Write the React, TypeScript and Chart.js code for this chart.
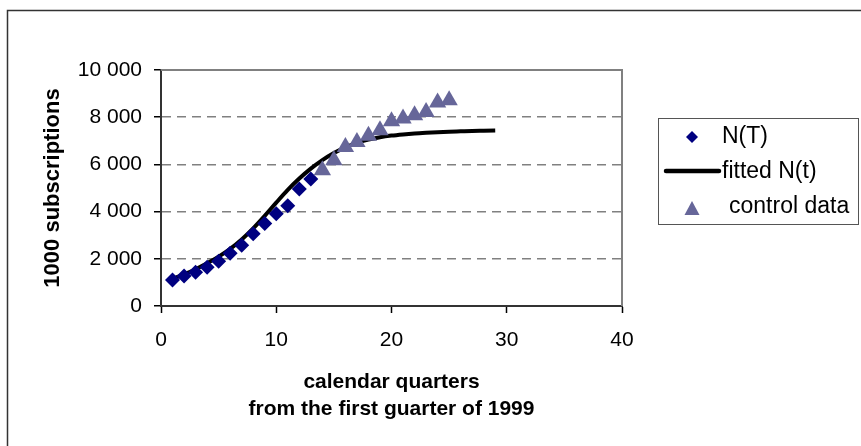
import React, { useEffect, useRef } from 'react';
import { Chart, registerables } from 'chart.js';

Chart.register(...registerables);

// ---- data ----
const QUARTERS_OBSERVED = [1, 2, 3, 4, 5, 6, 7, 8, 9, 10, 11, 12, 13];
const N_OBSERVED = [1100, 1270, 1430, 1640, 1900, 2230, 2570, 3060, 3500, 3910, 4250, 4960, 5380];

const QUARTERS_CONTROL = [14, 15, 16, 17, 18, 19, 20, 21, 22, 23, 24, 25];
const N_CONTROL = [5750, 6180, 6740, 6950, 7210, 7450, 7830, 7940, 8080, 8220, 8620, 8720];

const QUARTERS_FIT = [1, 2, 3, 4, 5, 6, 7, 8, 9, 10, 11, 12, 13, 14, 15, 16, 17, 18, 19, 20, 21, 22, 23, 24, 25, 26, 27, 28, 29];
const N_FIT = [1150, 1340, 1560, 1810, 2090, 2420, 2820, 3290, 3820, 4380, 4920, 5400, 5820, 6180, 6480, 6720, 6910, 7050, 7150, 7220, 7270, 7310, 7340, 7365, 7385, 7400, 7415, 7425, 7435];

const X_TICKS = [0, 10, 20, 30, 40];
const Y_TICKS = [0, 2000, 4000, 6000, 8000, 10000];
const SERIES_NAMES = ['N(T)', 'fitted N(t)', 'control data'];
const X_TITLE = ['calendar quarters', 'from the first guarter of 1999'];
const Y_TITLE = '1000 subscriptions';

const FONT = "'Liberation Sans', Arial, sans-serif";
const NAVY = '#000080';
const TRIANGLE = '#666699';

const fmt = (v: number) => String(v).replace(/\B(?=(\d{3})+(?!\d))/g, ' ');

const framePlugin = {
  id: 'frame',
  beforeDatasetsDraw(chart: any) {
    const { ctx, chartArea } = chart;
    ctx.save();
    ctx.strokeStyle = '#808080';
    ctx.lineWidth = 2;
    ctx.beginPath();
    ctx.moveTo(chartArea.left, chartArea.top);
    ctx.lineTo(chartArea.right, chartArea.top);
    ctx.lineTo(chartArea.right, chartArea.bottom);
    ctx.stroke();
    ctx.restore();
  },
  afterDraw(chart: any) {
    const { ctx } = chart;
    ctx.save();
    // outer chart border
    ctx.strokeStyle = '#333';
    ctx.lineWidth = 1.5;
    ctx.strokeRect(7.5, 10.5, 1000, 1000);
    // legend box
    ctx.strokeStyle = '#555';
    ctx.lineWidth = 1;
    ctx.strokeRect(658.5, 118.5, 200, 106);
    // markers
    ctx.fillStyle = NAVY;
    ctx.beginPath();
    ctx.moveTo(692 - 6, 137);
    ctx.lineTo(692, 137 - 6);
    ctx.lineTo(692 + 6, 137);
    ctx.lineTo(692, 137 + 6);
    ctx.closePath();
    ctx.fill();
    ctx.strokeStyle = '#000';
    ctx.lineWidth = 4.5;
    ctx.lineCap = 'round';
    ctx.beginPath();
    ctx.moveTo(666, 171);
    ctx.lineTo(719, 171);
    ctx.stroke();
    ctx.fillStyle = TRIANGLE;
    ctx.beginPath();
    ctx.moveTo(692, 201);
    ctx.lineTo(699.5, 215);
    ctx.lineTo(684.5, 215);
    ctx.closePath();
    ctx.fill();
    // texts
    ctx.fillStyle = '#000';
    ctx.font = `23px ${FONT}`;
    ctx.textBaseline = 'middle';
    ctx.textAlign = 'left';
    ctx.fillText(SERIES_NAMES[0], 722, 137);
    ctx.fillText(SERIES_NAMES[1], 722, 172);
    ctx.fillText(SERIES_NAMES[2], 729, 207);
    ctx.restore();
  },
};

export default function App() {
  const ref = useRef<HTMLCanvasElement | null>(null);

  useEffect(() => {
    if (!ref.current) return;
    const chart = new Chart(ref.current, {
      type: 'scatter',
      data: {
        datasets: [
          {
            label: SERIES_NAMES[0],
            data: QUARTERS_OBSERVED.map((x, i) => ({ x, y: N_OBSERVED[i] })),
            pointStyle: 'rectRot',
            pointRadius: 7.5,
            pointBorderWidth: 0,
            backgroundColor: NAVY,
            borderColor: NAVY,
            order: 1,
          },
          {
            label: SERIES_NAMES[1],
            data: QUARTERS_FIT.map((x, i) => ({ x, y: N_FIT[i] })),
            showLine: true,
            pointRadius: 0,
            borderWidth: 4,
            borderColor: '#000',
            backgroundColor: '#000',
            cubicInterpolationMode: 'monotone',
            order: 3,
          },
          {
            label: SERIES_NAMES[2],
            data: QUARTERS_CONTROL.map((x, i) => ({ x, y: N_CONTROL[i] })),
            pointStyle: 'triangle',
            pointRadius: 10,
            pointBorderWidth: 0,
            backgroundColor: TRIANGLE,
            borderColor: TRIANGLE,
            order: 0,
          },
        ],
      },
      options: {
        animation: false,
        responsive: false,
        events: [],
        layout: { padding: { left: 40, top: 70, right: 239, bottom: 0 } },
        plugins: { legend: { display: false }, tooltip: { enabled: false } },
        scales: {
          x: {
            type: 'linear',
            min: 0,
            max: 40,
            afterBuildTicks: (s: any) => { s.ticks = X_TICKS.map((v) => ({ value: v })); },
            afterFit: (s: any) => { s.height = 140; },
            ticks: { color: '#000', font: { family: FONT, size: 21 }, padding: 15, maxRotation: 0 },
            grid: { drawOnChartArea: false, tickLength: 7, tickColor: '#000', tickWidth: 1.5 },
            border: { color: '#333', width: 2 },
            title: {
              display: true,
              text: X_TITLE,
              color: '#000',
              font: { family: FONT, size: 21, weight: 'bold', lineHeight: 1.26 },
              padding: { top: 0, bottom: 24 },
            },
          },
          y: {
            type: 'linear',
            min: 0,
            max: 10000,
            afterBuildTicks: (s: any) => { s.ticks = Y_TICKS.map((v) => ({ value: v })); },
            afterFit: (s: any) => { s.width = 121; },
            ticks: { color: '#000', font: { family: FONT, size: 21 }, padding: 12, callback: (v: any) => fmt(Number(v)) },
            grid: {
              tickLength: 7,
              tickColor: '#000',
              tickWidth: 1.5,
              tickBorderDash: [],
              lineWidth: 1.5,
              color: (c: any) => (c.tick && (c.tick.value === 0 || c.tick.value === 10000) ? 'rgba(0,0,0,0)' : '#808080'),
            },
            border: { color: '#333', width: 2, dash: [9, 6] },
            title: {
              display: true,
              text: Y_TITLE,
              color: '#000',
              font: { family: FONT, size: 22, weight: 'bold' },
              padding: { top: 0, bottom: 0 },
            },
          },
        },
      },
      plugins: [framePlugin],
    } as any);
    return () => chart.destroy();
  }, []);

  return (
    <div style={{ position: 'fixed', left: 0, top: 0, width: 861, height: 446, background: '#fff' }}>
      <canvas ref={ref} width={861} height={446} style={{ display: 'block' }} />
    </div>
  );
}
